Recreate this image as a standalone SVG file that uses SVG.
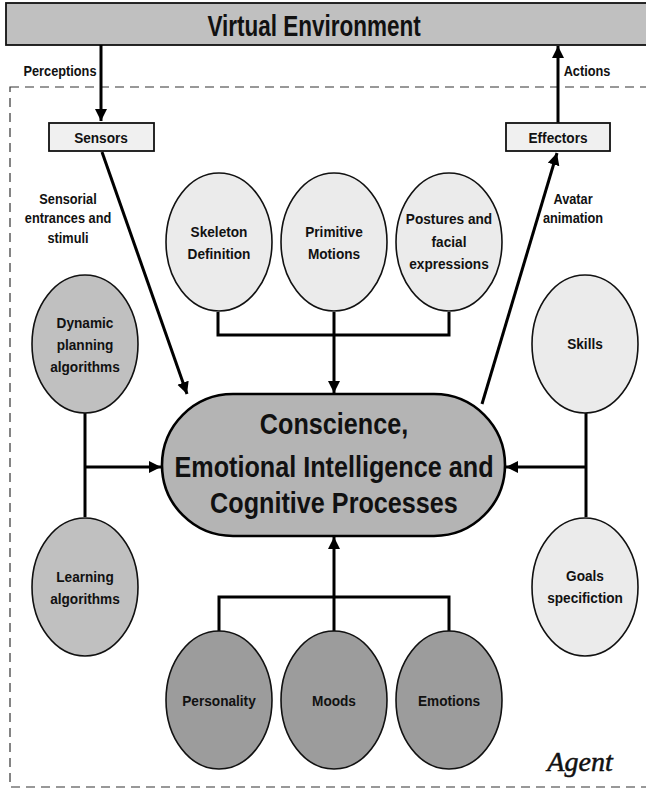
<svg xmlns="http://www.w3.org/2000/svg" width="646" height="789" viewBox="0 0 646 789">
  <style>
    text { font-family: "Liberation Sans", Arial, sans-serif; font-weight: bold; text-anchor: middle; fill: #111; }
    .small { font-size: 15.5px; }
    .lbl { font-size: 14.5px; }
    .core { font-size: 30px; }
    .title { font-size: 30px; }
    .agent { font-family: "Liberation Serif", "Times New Roman", serif; font-style: italic; font-weight: normal; font-size: 28px; stroke: #111; stroke-width: 0.5; }
    .light { fill: #ebebeb; stroke: #111; stroke-width: 1.6; }
    .mid { fill: #c0c0c0; stroke: #111; stroke-width: 1.6; }
    .dark { fill: #9c9c9c; stroke: #111; stroke-width: 1.6; }
    .box { fill: #f0f0f0; stroke: #111; stroke-width: 1.8; }
    .wire { fill: none; stroke: #000; stroke-width: 3; }
    .arrow { fill: none; stroke: #000; stroke-width: 3; marker-end: url(#head); }
  </style>
  <defs>
    <marker id="head" viewBox="0 0 10 10" refX="10" refY="5" markerWidth="4" markerHeight="4.2" orient="auto" markerUnits="strokeWidth">
      <path d="M0,0 L10,5 L0,10 Z" fill="#000"/>
    </marker>
  </defs>

  <rect width="646" height="789" fill="#fff"/>

  <!-- agent boundary -->
  <rect x="10" y="87" width="660" height="700" fill="none" stroke="#333" stroke-width="1.2" stroke-dasharray="9,6"/>

  <g id="environment">
    <rect x="6" y="3" width="660" height="42" fill="#c0c0c0" stroke="#111" stroke-width="1.8"/>
    <text class="title" transform="translate(314,36) scale(0.75,1)">Virtual Environment</text>
  </g>

  <g id="connectors">
    <path class="arrow" d="M101,45 V121"/>
    <path class="arrow" d="M558,123 V46"/>
    <path class="arrow" d="M102,152 L187,394"/>
    <path class="arrow" d="M482,404 L557,153"/>
    <path class="wire" d="M218,312 V335 H449 V312"/>
    <path class="arrow" d="M334,312 V393"/>
    <path class="wire" d="M85,413 V517"/>
    <path class="arrow" d="M85,467 H161"/>
    <path class="wire" d="M586,413 V517"/>
    <path class="arrow" d="M586,467 H506"/>
    <path class="wire" d="M219,631 V597 H449 V631"/>
    <path class="arrow" d="M334,631 V537"/>
    <text class="lbl" transform="translate(60,76) scale(0.88,1)">Perceptions</text>
    <text class="lbl" transform="translate(587,76) scale(0.88,1)">Actions</text>
    <text class="lbl" transform="translate(68,204) scale(0.88,1)">Sensorial<tspan x="0" dy="19.5">entrances and</tspan><tspan x="0" dy="19.5">stimuli</tspan></text>
    <text class="lbl" transform="translate(573,204) scale(0.88,1)">Avatar<tspan x="0" dy="19.5">animation</tspan></text>
  </g>

  <g id="sensors">
    <rect class="box" x="49" y="123" width="105" height="28"/>
    <text class="small" transform="translate(101,143) scale(0.88,1)">Sensors</text>
  </g>
  <g id="effectors">
    <rect class="box" x="506" y="123" width="104" height="28"/>
    <text class="small" transform="translate(558,143) scale(0.88,1)">Effectors</text>
  </g>

  <g id="skeleton">
    <ellipse class="light" cx="219" cy="242" rx="53" ry="69"/>
    <text class="small" transform="translate(219,237) scale(0.88,1)">Skeleton<tspan x="0" dy="22">Definition</tspan></text>
  </g>
  <g id="primitive">
    <ellipse class="light" cx="334" cy="242" rx="53" ry="69"/>
    <text class="small" transform="translate(334,237) scale(0.88,1)">Primitive<tspan x="0" dy="22">Motions</tspan></text>
  </g>
  <g id="postures">
    <ellipse class="light" cx="449" cy="242" rx="53" ry="69"/>
    <text class="small" transform="translate(449,224) scale(0.88,1)">Postures and<tspan x="0" dy="23">facial</tspan><tspan x="0" dy="22">expressions</tspan></text>
  </g>

  <g id="planning">
    <ellipse class="mid" cx="85" cy="344" rx="53" ry="69"/>
    <text class="small" transform="translate(85,328) scale(0.88,1)">Dynamic<tspan x="0" dy="22.5">planning</tspan><tspan x="0" dy="22">algorithms</tspan></text>
  </g>
  <g id="learning">
    <ellipse class="mid" cx="85" cy="587" rx="53" ry="69"/>
    <text class="small" transform="translate(85,582) scale(0.88,1)">Learning<tspan x="0" dy="22">algorithms</tspan></text>
  </g>

  <g id="skills">
    <ellipse class="light" cx="585" cy="344" rx="53" ry="69"/>
    <text class="small" transform="translate(585,349) scale(0.88,1)">Skills</text>
  </g>
  <g id="goals">
    <ellipse class="light" cx="585" cy="587" rx="53" ry="69"/>
    <text class="small" transform="translate(585,581) scale(0.88,1)">Goals<tspan x="0" dy="22.5">specifiction</tspan></text>
  </g>

  <g id="core">
    <rect x="162" y="394" width="343" height="142" rx="71" ry="71" fill="#b4b4b4" stroke="#000" stroke-width="2.6"/>
    <text class="core" transform="translate(334,434) scale(0.84,1)">Conscience,<tspan x="0" dy="43">Emotional Intelligence and</tspan><tspan x="0" dy="36">Cognitive Processes</tspan></text>
  </g>

  <g id="personality">
    <ellipse class="dark" cx="219" cy="700" rx="53" ry="69"/>
    <text class="small" transform="translate(219,706) scale(0.88,1)">Personality</text>
  </g>
  <g id="moods">
    <ellipse class="dark" cx="334" cy="700" rx="53" ry="69"/>
    <text class="small" transform="translate(334,706) scale(0.88,1)">Moods</text>
  </g>
  <g id="emotions">
    <ellipse class="dark" cx="449" cy="700" rx="53" ry="69"/>
    <text class="small" transform="translate(449,706) scale(0.88,1)">Emotions</text>
  </g>

  <g id="agent-label">
    <text class="agent" x="580" y="771">Agent</text>
  </g>
</svg>
